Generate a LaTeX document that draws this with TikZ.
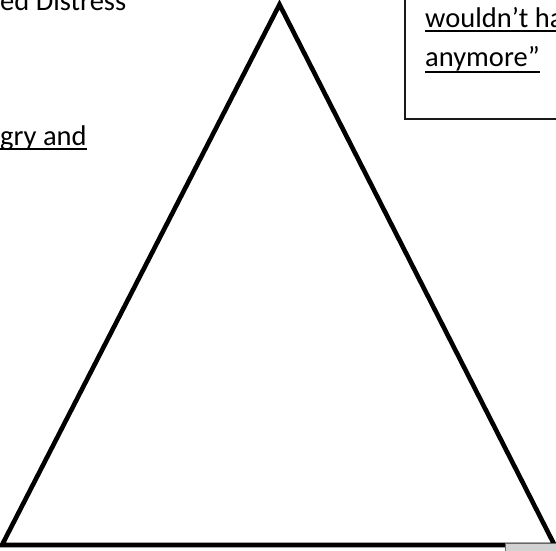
\documentclass[tikz,border=0pt]{standalone}
\usepackage{fontspec}
\setmainfont{Carlito}
\begin{document}
\begin{tikzpicture}[x=1pt,y=-1pt,
  txt/.style={inner sep=0pt, anchor=base west, font=\fontsize{28.5}{34}\selectfont},
  uline/.style={line width=2pt},
  tri/.style={line width=4.6pt, line join=miter},
  boxline/.style={line width=2pt, draw=black!90},
  tab/.style={fill=black!18, draw=black!60, line width=0.8pt}]
\useasboundingbox (0,0) rectangle (556,550);
\clip (0,0) rectangle (556,550);
% triangle
\coordinate (apex) at (279.5,4.5);
\coordinate (bl) at (2,545);
\coordinate (br) at (554.5,545);
\draw[tri] (bl) -- (apex) -- (br) -- cycle;
% small grey tab bottom right
\coordinate (tabA) at (505,543.6);
\coordinate (tabB) at (560,555);
\path[tab] (tabA) rectangle (tabB);
% texts on the left
\node[txt] (t1) at (0,10) {ed Distress};
\node[txt] (t2) at (0,145.5) {gry and};
\draw[uline] ([yshift=-3.5pt]t2.base west) -- ([yshift=-3.5pt]t2.base east);
% box top right
\coordinate (boxA) at (405,-5);
\coordinate (boxB) at (562,119);
\draw[boxline] (boxA) rectangle (boxB);
\node[txt] (t3) at (425,27) {wouldn’t ha};
\node[txt] (t4) at (425,66) {anymore”};
\draw[uline] ([yshift=-4pt]t3.base west) -- ([yshift=-4pt]t3.base east);
\draw[uline] ([yshift=-5.5pt]t4.base west) -- ([yshift=-5.5pt]t4.base east);
\end{tikzpicture}
\end{document}
